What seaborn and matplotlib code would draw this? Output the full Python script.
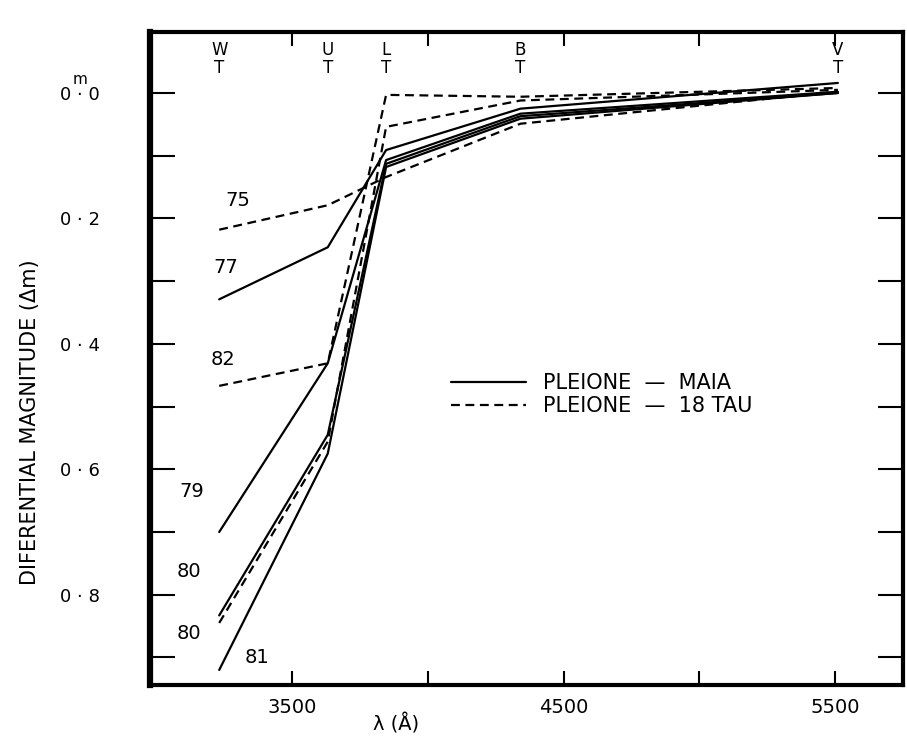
import numpy as np
import pandas as pd
import matplotlib
matplotlib.use("Agg")
import matplotlib.pyplot as plt
import seaborn as sns
from matplotlib.lines import Line2D

# Walraven pass-bands and their (approx.) effective wavelengths in Angstrom
filters = ["W", "U", "L", "B", "V"]
lam = [3230, 3630, 3845, 4340, 5510]

# differential magnitudes (one list per epoch / comparison star)
dm_75_tau = [0.218, 0.179, 0.134, 0.049, -0.002]
dm_77_maia = [0.329, 0.246, 0.091, 0.025, -0.016]
dm_79_maia = [0.700, 0.431, 0.107, 0.033, -0.002]
dm_80_maia = [0.833, 0.545, 0.113, 0.037, 0.000]
dm_80_tau = [0.845, 0.556, 0.054, 0.012, -0.005]
dm_81_maia = [0.920, 0.575, 0.118, 0.041, 0.000]
dm_82_tau = [0.467, 0.431, 0.003, 0.006, -0.008]

# year labels written next to the W end of each curve
year_text = ["75", "77", "82", "79", "80", "80", "81"]
year_lam = [3297, 3253, 3245, 3127, 3120, 3120, 3371]
year_dm = [0.172, 0.278, 0.425, 0.635, 0.763, 0.862, 0.900]

xtick_vals = [3500, 4000, 4500, 5000, 5500]
xtick_labels = ["3500", "", "4500", "", "5500"]
ytick_vals = [0.0, 0.1, 0.2, 0.3, 0.4, 0.5, 0.6, 0.7, 0.8, 0.9]
ytick_labels = ["0 · 0", "", "0 · 2", "", "0 · 4", "", "0 · 6", "", "0 · 8", ""]

curves = [
    ("75", "18 TAU", dm_75_tau),
    ("77", "MAIA", dm_77_maia),
    ("79", "MAIA", dm_79_maia),
    ("80", "MAIA", dm_80_maia),
    ("80", "18 TAU", dm_80_tau),
    ("81", "MAIA", dm_81_maia),
    ("82", "18 TAU", dm_82_tau),
]

rows = []
for year, comp, vals in curves:
    for l, v in zip(lam, vals):
        rows.append({"lam": l, "dm": v, "comp": comp, "curve": year + " " + comp})
df = pd.DataFrame(rows)

sns.set_style("ticks")
plt.rcParams["font.family"] = ["DejaVu Sans"]
plt.rcParams["text.color"] = "black"
plt.rcParams["axes.labelcolor"] = "black"
plt.rcParams["xtick.color"] = "black"
plt.rcParams["ytick.color"] = "black"

fig = plt.figure(figsize=(9.07, 7.40), dpi=100)
ax = fig.add_axes([0.1654, 0.0743, 0.8302, 0.8825])

dash = (4, 2.5)
sns.lineplot(data=df, x="lam", y="dm", units="curve", style="comp",
             estimator=None, sort=False, color="black", lw=1.6,
             dashes={"MAIA": "", "18 TAU": dash}, legend=False, ax=ax)

ax.set_xlim(2975, 5750)
ax.set_ylim(0.944, -0.0973)

ax.set_xticks(xtick_vals)
ax.set_xticklabels(xtick_labels)
ax.set_yticks(ytick_vals)
ax.set_yticklabels(ytick_labels)
ax.tick_params(axis="y", direction="in", length=18, width=1.5,
               left=True, right=True, pad=36, labelsize=13)
ax.tick_params(axis="x", direction="in", length=10, width=1.5,
               top=True, bottom=True, pad=9, labelsize=14)
for s in ax.spines.values():
    s.set_linewidth(3)
    s.set_color("black")
ax.spines["left"].set_linewidth(4.5)

# magnitude mark over the zero label
ax.text(-0.093, -0.022, "m", transform=ax.get_yaxis_transform(),
        ha="center", va="center", fontsize=11)

ax.set_xlabel("λ (Å)", fontsize=14)
ax.xaxis.set_label_coords(0.327, -0.043)
ax.set_ylabel("DIFERENTIAL MAGNITUDE (Δm)", fontsize=15)
ax.yaxis.set_label_coords(-0.146, 0.403)

# filter markers along the top
for f, l in zip(filters, lam):
    ax.text(l, -0.054, f + "\nT", ha="center", va="center",
            fontsize=12, linespacing=1.05)

for t, l, v in zip(year_text, year_lam, year_dm):
    ax.text(l, v, t, ha="center", va="center", fontsize=14)

handles = [Line2D([], [], color="black", lw=1.6),
           Line2D([], [], color="black", lw=1.6, dashes=dash)]
ax.legend(handles, ["PLEIONE  —  MAIA", "PLEIONE  —  18 TAU"],
          loc="upper left", bbox_to_anchor=(0.400, 0.478), frameon=False,
          fontsize=15, handlelength=3.6, handletextpad=0.8,
          labelspacing=0.15, borderaxespad=0, borderpad=0)

fig.savefig("out.png", dpi=100)
